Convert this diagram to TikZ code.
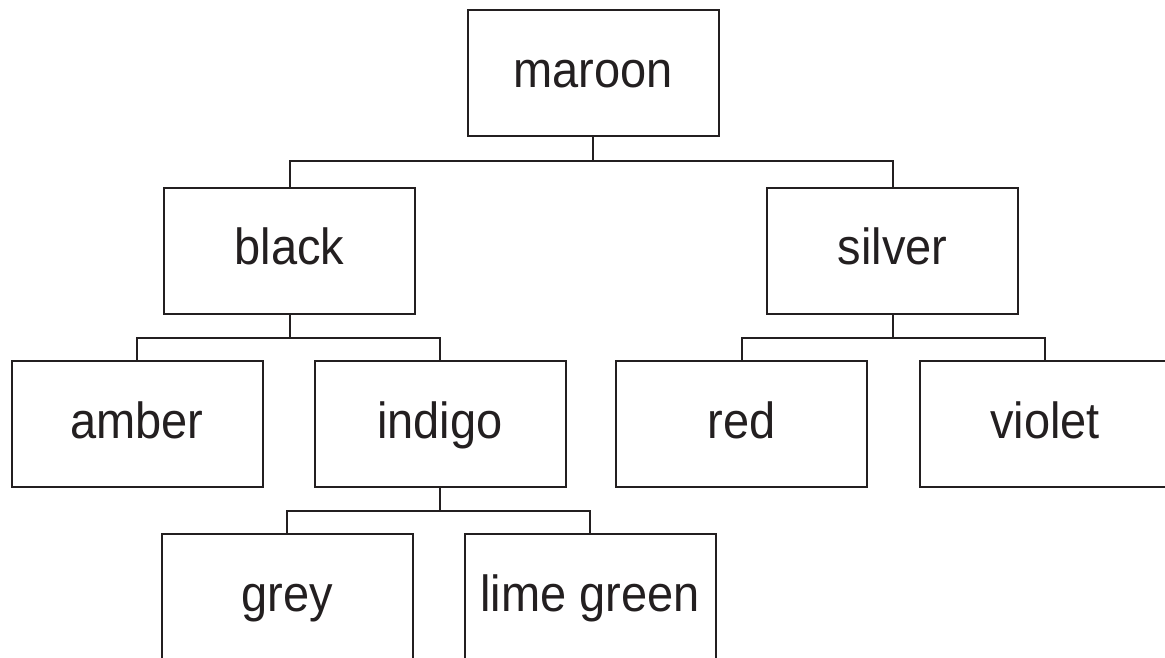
\documentclass[tikz,border=0pt]{standalone}
\usepackage{fontspec}
\usepackage{graphicx}
\setmainfont{Liberation Sans}
\definecolor{ink}{HTML}{231F20}
\newcommand{\stretchlabel}[1]{\scalebox{1}[1.08]{#1}}
\begin{document}
\begin{tikzpicture}[x=1pt,y=-1pt,
  box/.style={draw=ink,line width=2pt,rectangle,minimum width=251pt,minimum height=126pt,
    inner sep=0pt,text=ink,font=\fontsize{47}{50}\selectfont,text height=28pt,text depth=0pt},
  link/.style={draw=ink,line width=2pt}]
\useasboundingbox (0,0) rectangle (1165,657);
\clip (0,0) rectangle (1165,657);
\node[box] (maroon) at (593,73) {\stretchlabel{maroon}};
\node[box] (black) at (289.5,250.5) {\stretchlabel{black}};
\node[box] (silver) at (892.5,250.5) {\stretchlabel{silver}};
\node[box] (amber) at (137,424) {\stretchlabel{amber}};
\node[box] (indigo) at (440,424) {\stretchlabel{indigo}};
\node[box] (red) at (741.5,424) {\stretchlabel{red}};
\node[box] (violet) at (1045,424) {\stretchlabel{violet}};
\node[box] (grey) at (287,597) {\stretchlabel{grey}};
\node[box] (lime) at (590,597) {\stretchlabel{lime green}};
\draw[link] (maroon.south) -- (maroon.south |- 0,162);
\draw[link] (black.north) -- ++(0,-26) -| (silver.north);
\draw[link] (black.south) -- (black.south |- 0,339);
\draw[link] (amber.north) -- ++(0,-22) -| (indigo.north);
\draw[link] (silver.south) -- (silver.south |- 0,339);
\draw[link] (red.north) -- ++(0,-22) -| (violet.north);
\draw[link] (indigo.south) -- (indigo.south |- 0,512);
\draw[link] (grey.north) -- ++(0,-22) -| (lime.north);
\end{tikzpicture}
\end{document}
